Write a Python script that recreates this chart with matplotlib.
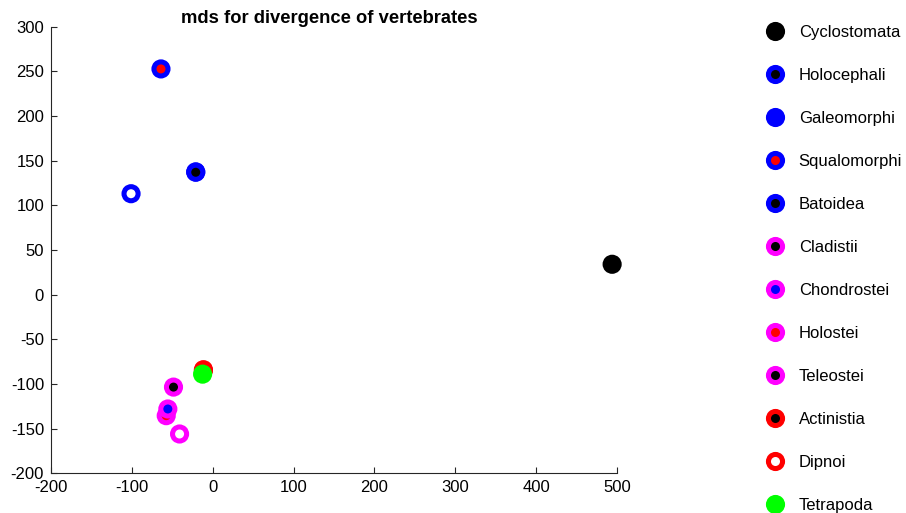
import matplotlib
matplotlib.use("Agg")
import matplotlib.pyplot as plt
from matplotlib.lines import Line2D
from matplotlib.legend_handler import HandlerTuple

plt.rcParams['font.family'] = ['Liberation Sans', 'DejaVu Sans']
plt.rcParams['axes.unicode_minus'] = False

# groups, positions
names = ['Cyclostomata', 'Holocephali', 'Galeomorphi', 'Squalomorphi', 'Batoidea',
         'Cladistii', 'Chondrostei', 'Holostei', 'Teleostei', 'Actinistia',
         'Dipnoi', 'Tetrapoda']
xs = [494, -21, -101, -64, -21, -41, -55.5, -57.5, -48.5, -11.5, -11.5, -12.5]
ys = [34, 137, 113, 252.7, 137.5, -156, -128, -135.5, -103.5, -84, -85, -89]
M = (1, 0, 1)
G = (0, 1, 0)
outer = ['k', 'b', 'b', 'b', 'b', M, M, M, M, 'r', 'r', G]
inner_plot = ['k', 'k', 'w', 'r', 'k', 'w', 'b', 'r', 'k', 'k', 'r', G]
inner_legend = ['k', 'k', 'b', 'r', 'k', 'k', 'b', 'r', 'k', 'k', 'w', G]
draw_order = [0, 4, 1, 2, 3, 5, 7, 6, 8, 10, 9, 11]

fig = plt.figure(figsize=(9.06, 5.13), dpi=100)
ax = fig.add_axes([0.0563, 0.0774, 0.6247, 0.8706])

axcol = (0.15, 0.15, 0.15)
for z, i in enumerate(draw_order):
    ax.scatter(xs[i], ys[i], s=190, c=[outer[i]], edgecolors='none',
               zorder=3 + 2 * z, clip_on=False)
    ax.scatter(xs[i], ys[i], s=42, c=[inner_plot[i]], edgecolors='none',
               zorder=4 + 2 * z, clip_on=False)

ax.set_xlim(-200, 500)
ax.set_ylim(-200, 300)
ax.set_xticks(range(-200, 501, 100))
ax.set_yticks(range(-200, 301, 50))
ax.spines['top'].set_visible(False)
ax.spines['right'].set_visible(False)
for sp in ['left', 'bottom']:
    ax.spines[sp].set_color(axcol)
    ax.spines[sp].set_linewidth(0.8)
ax.tick_params(direction='in', length=4, width=0.8, colors=axcol, labelsize=12,
               labelcolor='k', pad=5)
ax.set_title('mds for divergence of vertebrates', fontsize=13.2, fontweight='bold',
             pad=3, x=0.492)

handles = []
for i in range(len(names)):
    h_out = Line2D([], [], marker='o', linestyle='none', markersize=13.8,
                   markerfacecolor=outer[i], markeredgecolor='none')
    h_in = Line2D([], [], marker='o', linestyle='none', markersize=6.5,
                  markerfacecolor=inner_legend[i], markeredgecolor='none')
    handles.append((h_out, h_in))

fig.legend(handles, names, handler_map={tuple: HandlerTuple(ndivide=1)},
           loc='upper left', bbox_to_anchor=(0.826, 0.98), frameon=False,
           fontsize=12, labelspacing=1.68, handlelength=1.4, handletextpad=0.72,
           borderaxespad=0.5)

fig.savefig('out.png', dpi=100)
